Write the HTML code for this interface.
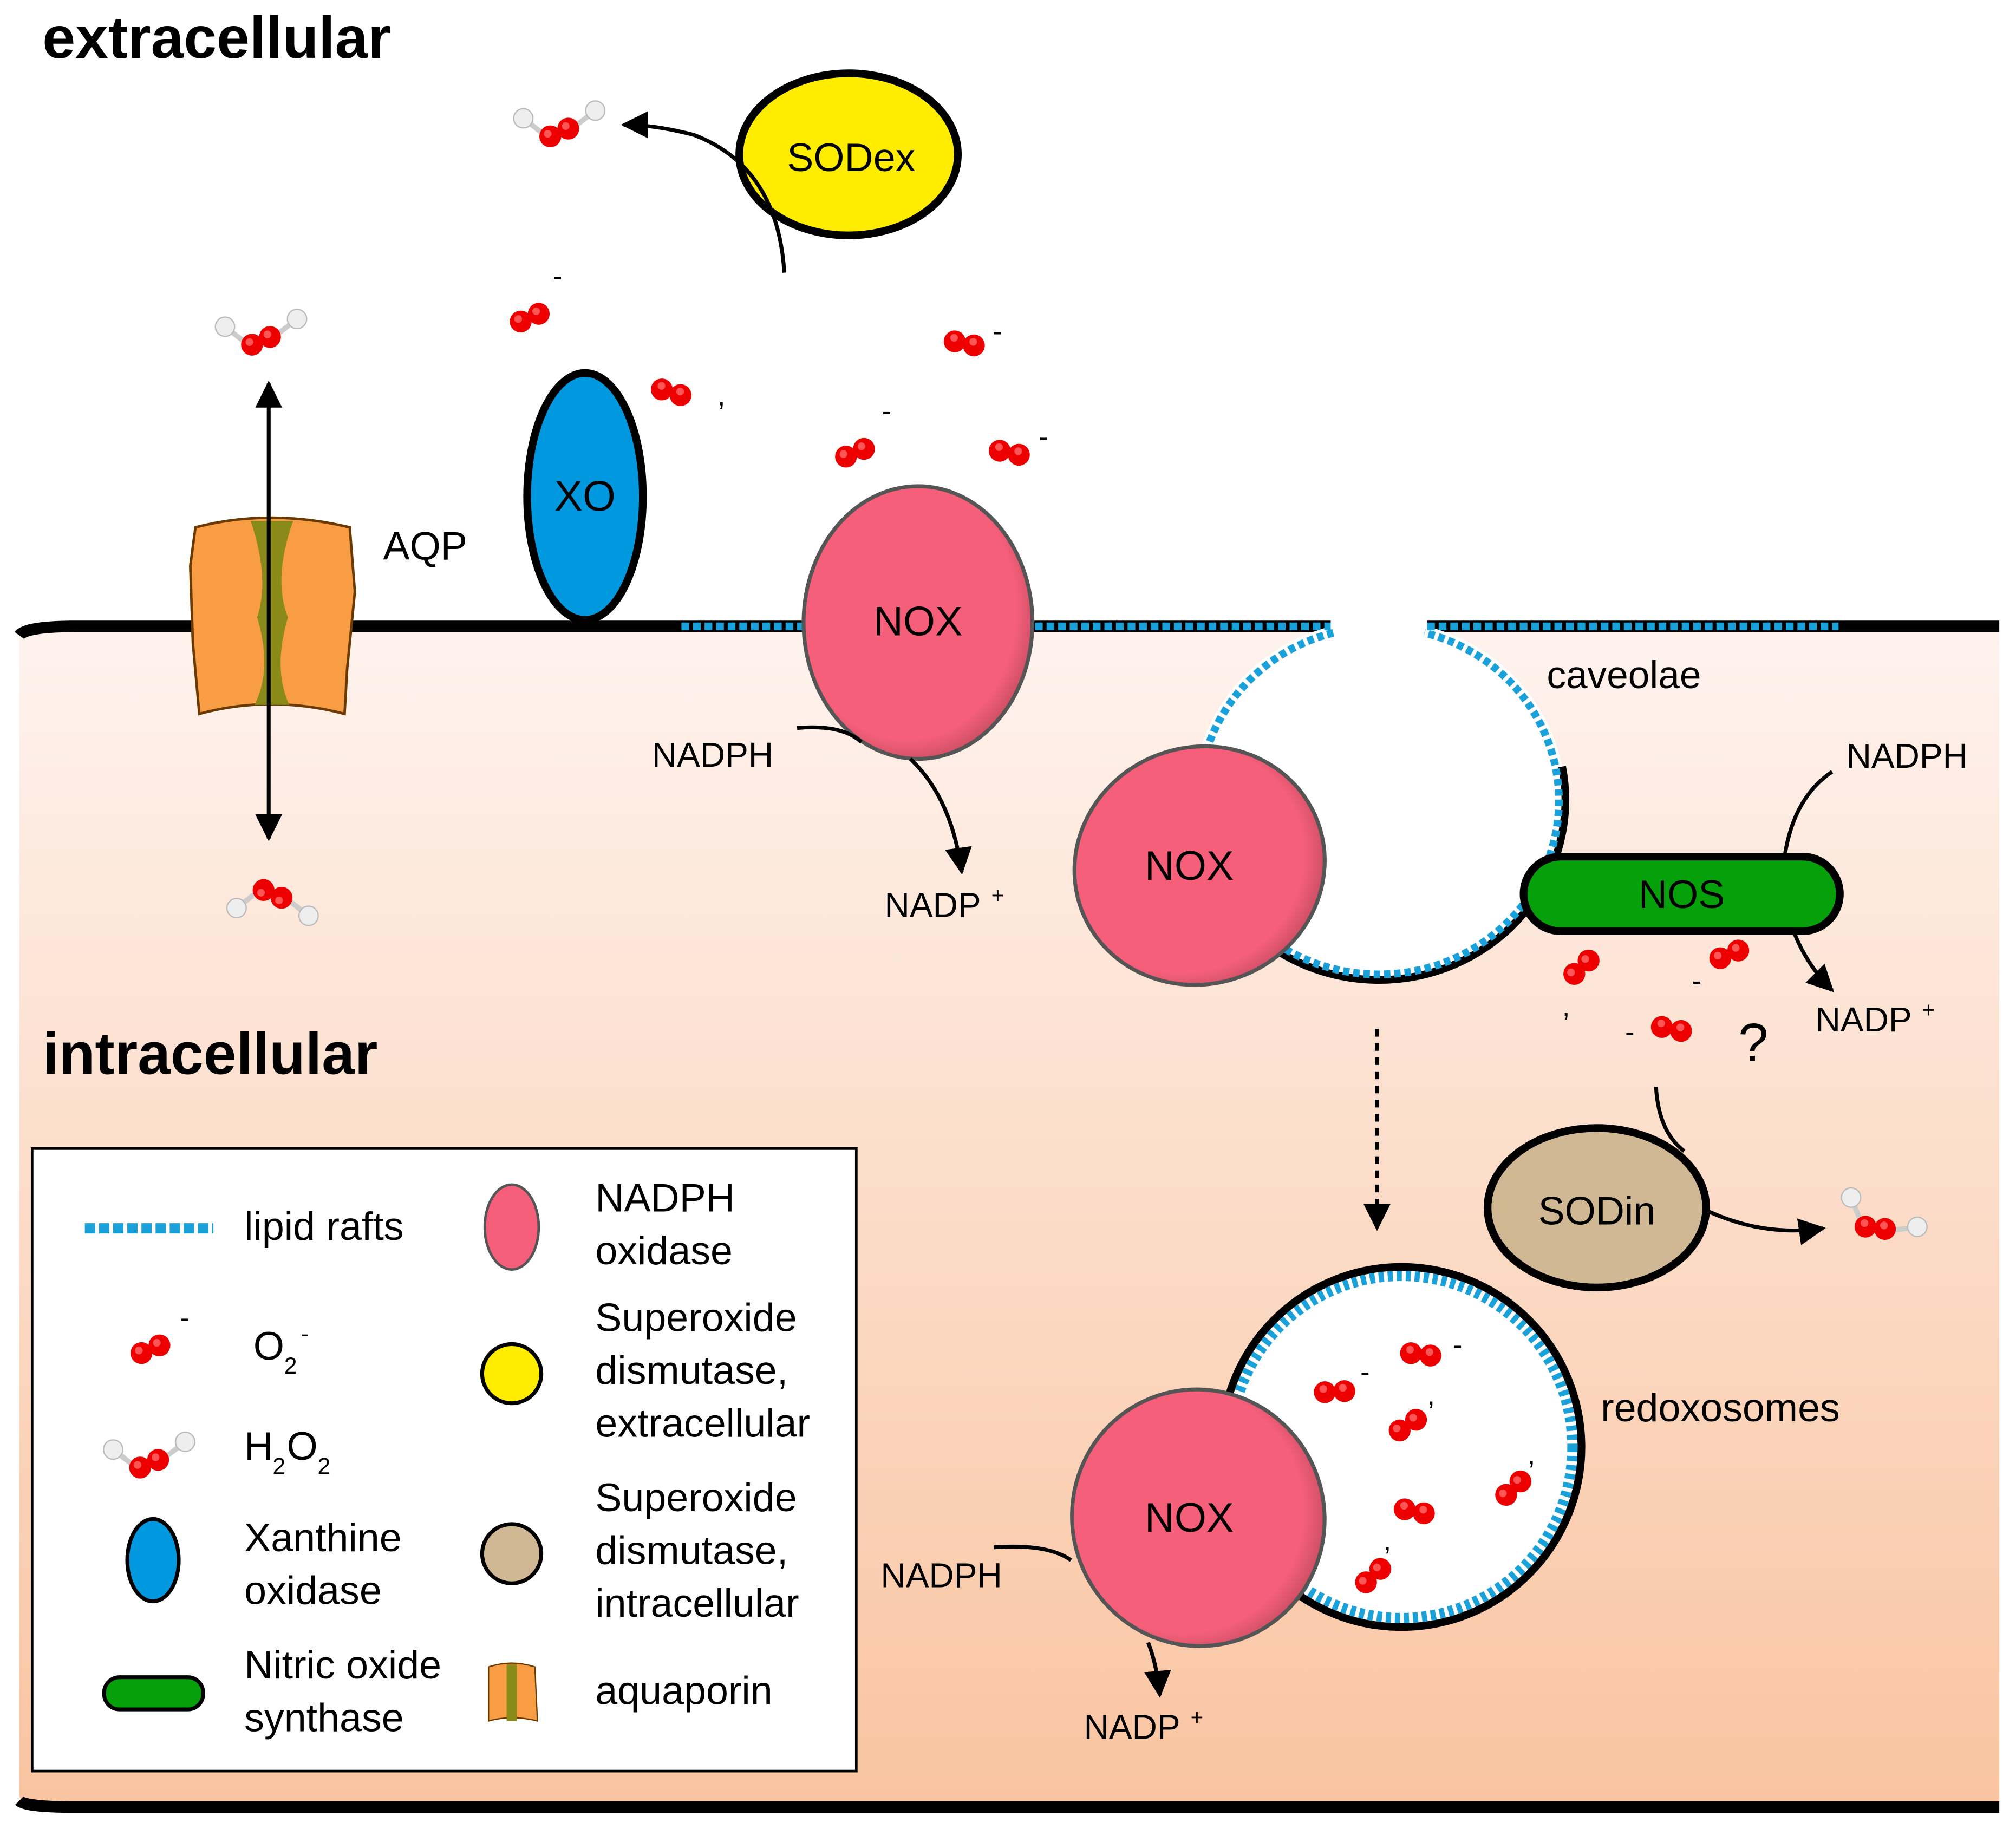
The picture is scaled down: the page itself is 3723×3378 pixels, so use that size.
<!DOCTYPE html>
<html><head><meta charset="utf-8"><style>
html,body{margin:0;padding:0;background:#fff;}
svg{display:block;}
text{font-family:"Liberation Sans",sans-serif;fill:#000;}
</style></head><body>
<svg width="3723" height="3378" viewBox="0 0 1568 1422" preserveAspectRatio="none" xmlns="http://www.w3.org/2000/svg">
<defs>
<linearGradient id="cell" x1="0" y1="0" x2="0" y2="1">
<stop offset="0" stop-color="#fef3ee"/><stop offset="1" stop-color="#f9c4a0"/></linearGradient>
<radialGradient id="nox" cx="0.45" cy="0.45" r="0.6"><stop offset="0.8" stop-color="#f55f79"/><stop offset="1" stop-color="#c04a5e"/></radialGradient>
<g id="o2"><circle cx="-7" cy="3" r="8.5" fill="#e00"/><circle cx="7" cy="-3" r="8.5" fill="#e00"/><circle cx="-9" cy="1" r="3" fill="#f55"/><circle cx="5" cy="-5" r="3" fill="#f55"/></g>
<g id="h2o2"><line x1="-28" y1="-8" x2="-10" y2="6" stroke="#ccc" stroke-width="4"/><line x1="28" y1="-14" x2="10" y2="0" stroke="#ccc" stroke-width="4"/><circle cx="-28" cy="-8" r="7.5" fill="#eee" stroke="#bbb"/><circle cx="28" cy="-14" r="7.5" fill="#eee" stroke="#bbb"/><use href="#o2" transform="translate(0,3)"/></g>
<marker id="ah" viewBox="0 0 10 10" refX="9" refY="5" markerWidth="7" markerHeight="7" orient="auto-start-reverse"><path d="M0,0L10,5L0,10z" fill="#000"/></marker>
</defs>
<rect x="0" y="0" width="1568" height="1422" fill="#fff"/>
<path d="M15,492 Q15,487 60,487 L1555,487 L1555,1405 L40,1405 Q15,1405 15,1395 Z" fill="url(#cell)"/>
<path d="M15,494 Q20,487 60,487 L1555,487" fill="none" stroke="#000" stroke-width="9"/>
<path d="M15,1400 Q20,1405 60,1405 L1555,1405" fill="none" stroke="#000" stroke-width="9"/>
<rect x="1035" y="480" width="75" height="14" fill="#fff"/>
<path d="M1035,487 A145,140 0 1 0 1110,487" fill="#fff" stroke="none"/>
<path d="M930,596 A145,140 0 1 0 1215,596" fill="none" stroke="#000" stroke-width="6"/>
<path d="M1037,492 A140,135 0 1 0 1108,492" fill="none" stroke="#1ba1d9" stroke-width="6" stroke-dasharray="5,3"/>
<g stroke="#1ba1d9" stroke-width="6" stroke-dasharray="6,3">
<line x1="530" y1="487" x2="625" y2="487"/><line x1="805" y1="487" x2="1035" y2="487"/><line x1="1110" y1="487" x2="1430" y2="487"/></g>
<text x="33" y="45" font-size="46" font-weight="bold">extracellular</text>
<text x="33" y="835" font-size="46" font-weight="bold">intracellular</text>
<path d="M152,410 Q210,395 272,410 L276,460 L270,520 L268,555 Q210,540 155,555 L150,500 L148,440 Z" fill="#f99d45" stroke="#6b3a00" stroke-width="2"/>
<path d="M195,405 Q210,450 200,480 Q212,520 198,548 L225,548 Q212,520 224,480 Q212,450 228,405 Z" fill="#8a8a1a"/>
<line x1="209" y1="298" x2="209" y2="652" stroke="#000" stroke-width="3" marker-start="url(#ah)" marker-end="url(#ah)"/>
<text x="298" y="435" font-size="31">AQP</text>
<use href="#h2o2" transform="translate(203,262)"/>
<use href="#h2o2" transform="translate(212,698) scale(1,-1)"/>
<ellipse cx="455" cy="386" rx="45" ry="96" fill="#0099e0" stroke="#000" stroke-width="6"/>
<text x="455" y="397" font-size="33" text-anchor="middle">XO</text>
<ellipse cx="660" cy="120" rx="85" ry="63" fill="#ffed00" stroke="#000" stroke-width="6"/>
<text x="662" y="133" font-size="31" text-anchor="middle">SODex</text>
<path d="M610,212 Q605,130 540,105 Q510,97 485,97" fill="none" stroke="#000" stroke-width="3" marker-end="url(#ah)"/>
<use href="#h2o2" transform="translate(435,100)"/>
<use href="#o2" transform="translate(412,247)"/><text x="430" y="222" font-size="22">-</text>
<use href="#o2" transform="translate(522,305) rotate(40)"/><text x="558" y="315" font-size="22">,</text>
<use href="#o2" transform="translate(750,267) rotate(35)"/><text x="772" y="265" font-size="22">-</text>
<use href="#o2" transform="translate(665,352)"/><text x="686" y="327" font-size="22">-</text>
<use href="#o2" transform="translate(785,352) rotate(35)"/><text x="808" y="347" font-size="22">-</text>
<ellipse cx="714" cy="484" rx="89" ry="106" fill="url(#nox)" stroke="#555" stroke-width="3"/>
<text x="714" y="494" font-size="32" text-anchor="middle">NOX</text>
<text x="507" y="596" font-size="27">NADPH</text>
<path d="M620,566 Q655,563 670,577" fill="none" stroke="#000" stroke-width="3"/>
<path d="M708,590 Q740,620 748,678" fill="none" stroke="#000" stroke-width="3" marker-end="url(#ah)"/>
<text x="688" y="713" font-size="27">NADP</text><text x="771" y="702" font-size="17">+</text>
<ellipse cx="933" cy="673" rx="98" ry="92" transform="rotate(-20 933 673)" fill="url(#nox)" stroke="#555" stroke-width="3"/>
<text x="925" y="684" font-size="32" text-anchor="middle">NOX</text>
<text x="1203" y="535" font-size="30">caveolae</text>
<rect x="1185" y="666" width="246" height="58" rx="29" fill="#06a00b" stroke="#000" stroke-width="6"/>
<text x="1308" y="706" font-size="31" text-anchor="middle">NOS</text>
<text x="1436" y="597" font-size="27">NADPH</text>
<path d="M1388,666 Q1395,620 1425,600" fill="none" stroke="#000" stroke-width="3"/>
<path d="M1395,724 Q1405,750 1425,770" fill="none" stroke="#000" stroke-width="3" marker-end="url(#ah)"/>
<text x="1412" y="802" font-size="27">NADP</text><text x="1495" y="791" font-size="17">+</text>
<use href="#o2" transform="translate(1230,752) rotate(-20)"/><text x="1215" y="790" font-size="22">,</text>
<use href="#o2" transform="translate(1345,742)"/><text x="1316" y="770" font-size="22">-</text>
<use href="#o2" transform="translate(1300,800) rotate(35)"/><text x="1264" y="810" font-size="22">-</text>
<text x="1352" y="825" font-size="42">?</text>
<path d="M1288,845 Q1290,880 1310,895" fill="none" stroke="#000" stroke-width="3"/>
<ellipse cx="1242" cy="939" rx="85" ry="62" fill="#d0b894" stroke="#000" stroke-width="6"/>
<text x="1242" y="952" font-size="31" text-anchor="middle">SODin</text>
<path d="M1325,940 Q1370,962 1418,955" fill="none" stroke="#000" stroke-width="3" marker-end="url(#ah)"/>
<use href="#h2o2" transform="translate(1460,952) rotate(30)"/>
<line x1="1071" y1="800" x2="1071" y2="955" stroke="#000" stroke-width="3" stroke-dasharray="6,5" marker-end="url(#ah)"/>
<circle cx="1090" cy="1125" r="140" fill="#fff" stroke="#000" stroke-width="6"/>
<circle cx="1090" cy="1125" r="133" fill="none" stroke="#1ba1d9" stroke-width="8" stroke-dasharray="4,3"/>
<text x="1245" y="1105" font-size="31">redoxosomes</text>
<use href="#o2" transform="translate(1105,1053) rotate(30)"/><text x="1130" y="1053" font-size="22">-</text>
<use href="#o2" transform="translate(1038,1082) rotate(20)"/><text x="1058" y="1074" font-size="22">-</text>
<use href="#o2" transform="translate(1095,1108) rotate(-10)"/><text x="1110" y="1092" font-size="22">,</text>
<use href="#o2" transform="translate(1177,1157) rotate(-20)"/><text x="1188" y="1138" font-size="22">,</text>
<use href="#o2" transform="translate(1100,1175) rotate(35)"/>
<use href="#o2" transform="translate(1068,1225) rotate(-20)"/><text x="1076" y="1205" font-size="22">,</text>
<ellipse cx="932" cy="1180" rx="98" ry="100" transform="rotate(-20 932 1180)" fill="url(#nox)" stroke="#555" stroke-width="3"/>
<text x="925" y="1191" font-size="32" text-anchor="middle">NOX</text>
<text x="685" y="1234" font-size="27">NADPH</text>
<path d="M773,1203 Q815,1200 833,1213" fill="none" stroke="#000" stroke-width="3"/>
<path d="M893,1277 Q900,1295 902,1318" fill="none" stroke="#000" stroke-width="3" marker-end="url(#ah)"/>
<text x="843" y="1352" font-size="27">NADP</text><text x="926" y="1341" font-size="17">+</text>
<rect x="25" y="893" width="641" height="484" fill="#fff" stroke="#000" stroke-width="2"/>
<line x1="66" y1="955" x2="166" y2="955" stroke="#1ba1d9" stroke-width="8" stroke-dasharray="8,3"/>
<g font-size="31">
<text x="190" y="964">lipid rafts</text>
<use href="#o2" transform="translate(117,1049)"/><text x="140" y="1032" font-size="22">-</text>
<text x="197" y="1057">O</text><text x="221" y="1068" font-size="18">2</text><text x="234" y="1043" font-size="18">-</text>
<use href="#h2o2" transform="translate(116,1135)"/>
<text x="190" y="1135">H</text><text x="212" y="1146" font-size="18">2</text><text x="223" y="1135">O</text><text x="247" y="1146" font-size="18">2</text>
<ellipse cx="119" cy="1213" rx="20" ry="32" fill="#0099e0" stroke="#000" stroke-width="3"/>
<text x="190" y="1206">Xanthine</text><text x="190" y="1247">oxidase</text>
<rect x="81" y="1304" width="77" height="25" rx="12" fill="#06a00b" stroke="#000" stroke-width="3"/>
<text x="190" y="1305">Nitric oxide</text><text x="190" y="1346">synthase</text>
<ellipse cx="398" cy="954" rx="21" ry="33" fill="#f55f79" stroke="#555" stroke-width="2"/>
<text x="463" y="942">NADPH</text><text x="463" y="983">oxidase</text>
<circle cx="398" cy="1068" r="23" fill="#ffed00" stroke="#000" stroke-width="3"/>
<text x="463" y="1035">Superoxide</text><text x="463" y="1076">dismutase,</text><text x="463" y="1117">extracellular</text>
<circle cx="398" cy="1208" r="23" fill="#d0b894" stroke="#000" stroke-width="3"/>
<text x="463" y="1175">Superoxide</text><text x="463" y="1216">dismutase,</text><text x="463" y="1257">intracellular</text>
<path d="M380,1296 Q398,1290 416,1296 L418,1338 Q398,1333 380,1338 Z" fill="#f99d45" stroke="#6b3a00" stroke-width="1"/>
<rect x="394" y="1294" width="8" height="44" fill="#8a8a1a"/>
<text x="463" y="1325">aquaporin</text>
</g>
</svg>
</body></html>
